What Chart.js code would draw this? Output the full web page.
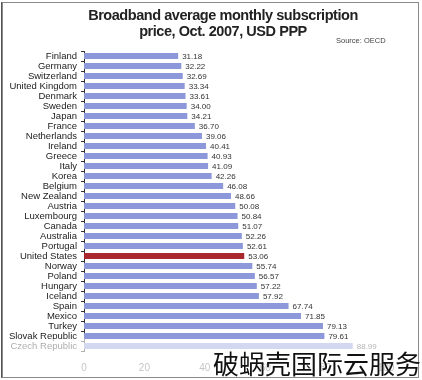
<!DOCTYPE html>
<html>
<head>
<meta charset="utf-8">
<script src="https://cdn.jsdelivr.net/npm/chart.js@4/dist/chart.umd.min.js"></script>
<style>
html,body{margin:0;padding:0;background:#fff;}
canvas{display:block;}
</style>
</head>
<body>
<canvas id="c" width="422" height="380"></canvas>
<script>
const countries = ["Finland","Germany","Switzerland","United Kingdom","Denmark","Sweden","Japan","France","Netherlands","Ireland","Greece","Italy","Korea","Belgium","New Zealand","Austria","Luxembourg","Canada","Australia","Portugal","United States","Norway","Poland","Hungary","Iceland","Spain","Mexico","Turkey","Slovak Republic","Czech Republic"];
const prices = [31.18,32.22,32.69,33.34,33.61,34.00,34.21,36.70,39.06,40.41,40.93,41.09,42.26,46.08,48.66,50.08,50.84,51.07,52.26,52.61,53.06,55.74,56.57,57.22,57.92,67.74,71.85,79.13,79.61,88.99];
const xTicks = [0,20,40,60,80,100];
const titleLines = ["Broadband average monthly subscription","price, Oct. 2007, USD PPP"];
const sourceText = "Source: OECD";
const watermark = "破蜗壳国际云服务";
const highlight = "United States";

const barColors = countries.map(c => c === highlight ? "#a8282e" : "#8d98db");

const decor = {
  id: "decor",
  beforeDraw(chart) {
    const ctx = chart.ctx;
    ctx.save();
    ctx.fillStyle = "#fff";
    ctx.fillRect(0, 0, chart.width, chart.height);
    ctx.fillStyle = "#222";
    ctx.textAlign = "center";
    ctx.textBaseline = "middle";
    ctx.font = "bold 14.5px 'Liberation Sans', Arial, sans-serif";
    if ('letterSpacing' in ctx) ctx.letterSpacing = "-0.45px";
    ctx.fillText(titleLines[0], 223, 16);
    ctx.fillText(titleLines[1], 223, 32);
    if ('letterSpacing' in ctx) ctx.letterSpacing = "0px";
    ctx.font = "7.5px 'Liberation Sans', Arial, sans-serif";
    ctx.fillStyle = "#444";
    ctx.textAlign = "left";
    ctx.fillText(sourceText, 336, 41);
    ctx.restore();
  },
  afterDatasetsDraw(chart) {
    const ctx = chart.ctx;
    const meta = chart.getDatasetMeta(0);
    ctx.save();
    ctx.font = "8px 'Liberation Sans', Arial, sans-serif";
    ctx.fillStyle = "#333";
    ctx.textAlign = "left";
    ctx.textBaseline = "middle";
    meta.data.forEach((bar, i) => {
      ctx.fillText(prices[i].toFixed(2), bar.x + 4, bar.y + 0.5);
    });
    ctx.restore();
  },
  afterDraw(chart) {
    const ctx = chart.ctx;
    ctx.save();
    ctx.fillStyle = "rgba(255,255,255,0.62)";
    ctx.fillRect(3, 339, 415, 39);
    ctx.strokeStyle = "#8a8a8a";
    ctx.lineWidth = 1;
    ctx.strokeRect(2.5, 2.5, 416, 375);
    ctx.strokeStyle = "#555";
    ctx.beginPath(); ctx.moveTo(1.5, 2); ctx.lineTo(1.5, 378); ctx.stroke();
    ctx.fillStyle = "#111";
    ctx.font = "26px 'Noto Sans CJK SC', sans-serif";
    ctx.textAlign = "right";
    ctx.textBaseline = "middle";
    ctx.fillText(watermark, 421, 364);
    ctx.restore();
  }
};

new Chart(document.getElementById("c"), {
  type: "bar",
  data: {
    labels: countries,
    datasets: [{
      data: prices,
      backgroundColor: barColors,
      borderWidth: 0,
      barPercentage: 0.58,
      categoryPercentage: 1.0
    }]
  },
  options: {
    indexAxis: "y",
    responsive: false,
    devicePixelRatio: 1,
    animation: false,
    layout: { padding: { top: 51, left: 0, right: 36, bottom: 0 } },
    plugins: { legend: { display: false }, tooltip: { enabled: false }, title: { display: false } },
    scales: {
      x: {
        min: 0, max: 100,
        afterBuildTicks(scale) { scale.ticks = xTicks.map(v => ({ value: v })); },
        afterFit(scale) { scale.height = 29; },
        grid: { display: false },
        border: { display: false },
        ticks: { color: "#666", padding: 3, font: { size: 10, family: "'Liberation Sans', Arial, sans-serif" } }
      },
      y: {
        afterFit(scale) { scale.width = 84; },
        grid: { drawOnChartArea: false, drawTicks: true, tickLength: 3, offset: true, color: "#333" },
        border: { display: true, color: "#333", width: 1 },
        ticks: { color: "#222", padding: 4, autoSkip: false, font: { size: 9.5, family: "'Liberation Sans', Arial, sans-serif" } }
      }
    }
  },
  plugins: [decor]
});
</script>
</body>
</html>
